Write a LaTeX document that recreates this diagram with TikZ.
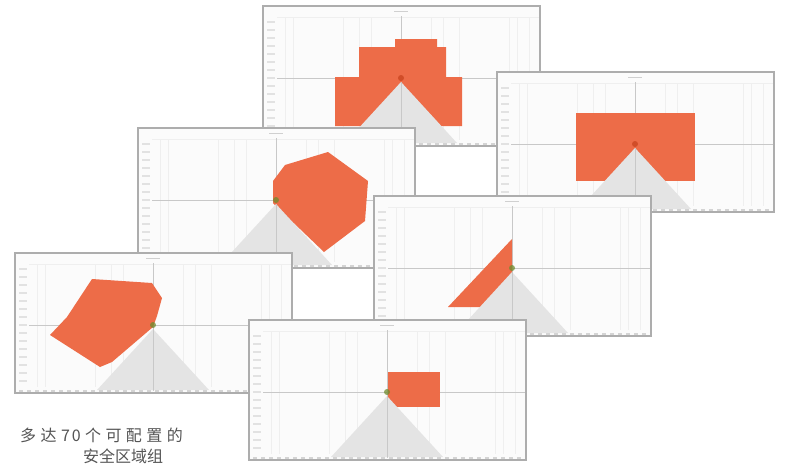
\documentclass[tikz,border=0pt]{standalone}
\usepackage{fontspec}
\newfontfamily\cjk{Noto Sans CJK SC}
\definecolor{zone}{HTML}{ED6C48}
\definecolor{fov}{HTML}{E4E4E4}
\definecolor{framec}{HTML}{ADADAD}
\definecolor{gridc}{HTML}{EFEFEF}
\definecolor{axisc}{HTML}{C8C8C8}
\definecolor{tickc}{HTML}{D4D4D4}
\definecolor{labelc}{HTML}{E2E2E2}
\definecolor{titlec}{HTML}{D0D0D0}
\definecolor{panelbg}{HTML}{FBFBFB}
\definecolor{sensgreen}{HTML}{6E8B2E}
\definecolor{sensred}{HTML}{C8431E}
\definecolor{textc}{HTML}{555555}
\tikzset{
  panelframe/.style={draw=framec, line width=1.1pt},
  gridline/.style={draw=gridc, line width=0.8pt},
  axisline/.style={draw=axisc, line width=0.8pt},
  tickmark/.style={draw=tickc, line width=1.5pt},
  labelmark/.style={draw=labelc, line width=1.1pt},
  zonefill/.style={fill=zone},
  fovfill/.style={fill=fov},
  caption/.style={font=\cjk\fontsize{16}{16}\selectfont, text=textc, inner sep=0pt, anchor=west}
}
% #1,#2 panel origin, #3 sensor colour, #4 zone path (relative to sensor)
\newcommand\fieldpanel[4]{%
\begin{scope}[shift={(#1,#2)}]
  \fill[panelbg] (0,0) rectangle (277,140);
  \foreach \gx in {22,30,80,96,108,168,180,196,246,254,266}
    \draw[gridline] (\gx,11) -- (\gx,134);
  \draw[gridline] (14,11) -- (276,11);
  \foreach \gy in {16,24,...,128}
    \draw[labelmark] (4,\gy) -- (12,\gy);
  \draw[axisline] (138,10) -- (138,138);
  \draw[axisline] (14,72) -- (276,72);
  \fill[titlec] (131,4.6) rectangle (145,5.6);
  \begin{scope}[shift={(138,72)}]
    \fill[zonefill] #4;
  \end{scope}
  \fill[fovfill] (138,76) -- (82,137) -- (194,137) -- cycle;
  \draw[axisline] (138,76) -- (138,137);
  \foreach \gx in {4,12,...,272}
    \draw[tickmark] (\gx,138) -- (\gx+3.5,138);
  \fill[#3, opacity=0.75] (138,72) circle (3);
  \draw[panelframe] (0,0) rectangle (277,140);
\end{scope}}
\newcommand\gapc{\kern4.4pt}
\begin{document}
\begin{tikzpicture}[x=1pt,y=-1pt]
\useasboundingbox (0,0) rectangle (786,469);
\fill[white] (0,0) rectangle (786,469);
% P1 top
\fieldpanel{263}{6}{sensred}{(-66,48) -- (-66,-1) -- (-42,-1) -- (-42,-31) -- (-6,-31) -- (-6,-39) -- (36,-39) -- (36,-31) -- (45,-31) -- (45,-1) -- (61,-1) -- (61,48) -- cycle}
% P2 right
\fieldpanel{497}{72}{sensred}{(-59,-31) rectangle (60,37)}
% P3 middle left
\fieldpanel{138}{128}{sensgreen}{(-3,-19) -- (9,-35) -- (52,-48) -- (92,-19) -- (89,21) -- (48,52) -- (0,6) -- (-3,3) -- cycle}
% P4 middle right
\fieldpanel{374}{196}{sensgreen}{(0,-29) -- (0,10) -- (-30,39) -- (-64,39) -- cycle}
% P5 left
\fieldpanel{15}{253}{sensgreen}{(-61,-46) -- (-1,-42) -- (9,-27) -- (4,-9) -- (0,2) -- (-41,37) -- (-53,42) -- (-103,10) -- (-86,-8) -- cycle}
% P6 bottom
\fieldpanel{249}{320}{sensgreen}{(1,-20) rectangle (53,15)}
\node[caption] (cap1) at (20,435) {多\gapc 达\gapc 7\kern2pt 0\gapc 个\gapc 可\gapc 配\gapc 置\gapc 的};
\node[caption] (cap2) at (83,456) {安全区域组};
\end{tikzpicture}
\end{document}
